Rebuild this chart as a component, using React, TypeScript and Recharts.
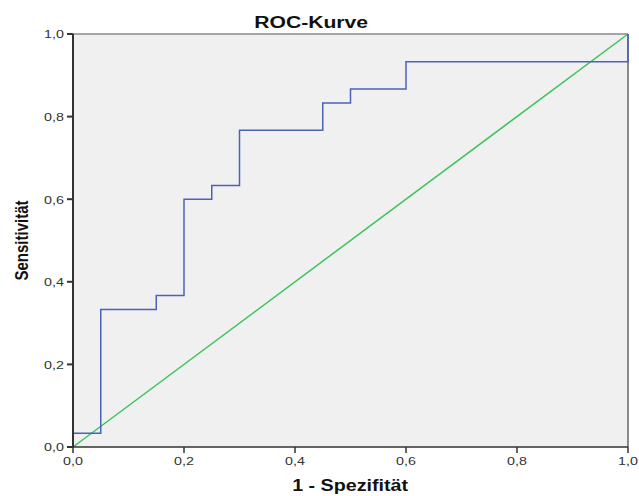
import { LineChart, Line, XAxis, YAxis, CartesianGrid, ReferenceLine } from 'recharts';

// ROC step curve (1 - specificity, sensitivity)
const fpr = [0, 0, 0.05, 0.05, 0.15, 0.15, 0.2, 0.2, 0.25, 0.25, 0.3, 0.3, 0.45, 0.45, 0.5, 0.5, 0.6, 0.6, 1, 1];
const tpr = [0, 0.033, 0.033, 0.333, 0.333, 0.367, 0.367, 0.6, 0.6, 0.633, 0.633, 0.767, 0.767, 0.833, 0.833, 0.867, 0.867, 0.933, 0.933, 1];
const diagX = [0, 1];
const diagY = [0, 1];
const ticks = [0, 0.2, 0.4, 0.6, 0.8, 1];

const rocData = fpr.map((x, i) => ({ x, y: tpr[i] }));
const diagData = diagX.map((x, i) => ({ x, y: diagY[i] }));

const fmt = (v: number) => v.toFixed(1).replace('.', ',');
const font = '"Liberation Sans", Arial, sans-serif';

// the reference is stretched sideways, so texts get a horizontal scale
const XTick = (props: any) => {
  const { x, y, payload } = props;
  return (
    <text transform={`translate(${x},${y}) scale(1.3,1)`} dy="0.71em" textAnchor="middle" fill="#333" fontSize={11} fontFamily={font}>
      {fmt(payload.value)}
    </text>
  );
};

const YTick = (props: any) => {
  const { x, y, payload } = props;
  return (
    <text transform={`translate(${x},${y}) scale(1.3,1)`} dy="0.4em" textAnchor="end" fill="#333" fontSize={11} fontFamily={font}>
      {fmt(payload.value)}
    </text>
  );
};

export default function App() {
  return (
    <div style={{ position: 'absolute', left: 0, top: 0, width: 639, height: 496, background: '#fff', fontFamily: font }}>
      <LineChart width={639} height={496} margin={{ top: 34, right: 11, left: 0, bottom: 0 }}>
        <CartesianGrid fill="#f0f0f0" horizontal={false} vertical={false} />
        <XAxis
          type="number"
          dataKey="x"
          domain={[0, 1]}
          ticks={ticks}
          height={49}
          tickSize={6}
          tickMargin={4}
          stroke="#333"
          strokeWidth={1.5}
          tick={<XTick />}
        />
        <YAxis
          type="number"
          dataKey="y"
          domain={[0, 1]}
          ticks={ticks}
          width={73}
          tickSize={6}
          tickMargin={3}
          stroke="#333"
          strokeWidth={2}
          tick={<YTick />}
        />
        <ReferenceLine y={1} stroke="#8a8a8a" strokeWidth={1.5} />
        <ReferenceLine x={1} stroke="#666" strokeWidth={1.5} />
        <Line data={diagData} dataKey="y" type="linear" stroke="#3cc45a" strokeWidth={1.5} dot={false} isAnimationActive={false} />
        <Line data={rocData} dataKey="y" type="linear" stroke="#4a62b8" strokeWidth={1.5} dot={false} isAnimationActive={false} />
      </LineChart>
      <div style={{ position: 'absolute', left: 0, width: 622, top: 14, textAlign: 'center', fontWeight: 'bold', fontSize: 16, color: '#111', whiteSpace: 'nowrap' }}>
        <span style={{ display: 'inline-block', transform: 'scaleX(1.32)' }}>ROC-Kurve</span>
      </div>
      <div style={{ position: 'absolute', left: 0, width: 701, top: 477, textAlign: 'center', fontWeight: 'bold', fontSize: 16, color: '#111', whiteSpace: 'nowrap' }}>
        <span style={{ display: 'inline-block', transform: 'scaleX(1.23)' }}>1 - Spezifität</span>
      </div>
      <svg width={40} height={496} style={{ position: 'absolute', left: 0, top: 0 }}>
        <text transform="translate(28,240.5) scale(1.25,1) rotate(-90)" textAnchor="middle" fill="#111" fontSize={15} fontWeight="bold" fontFamily={font}>
          Sensitivität
        </text>
      </svg>
    </div>
  );
}
